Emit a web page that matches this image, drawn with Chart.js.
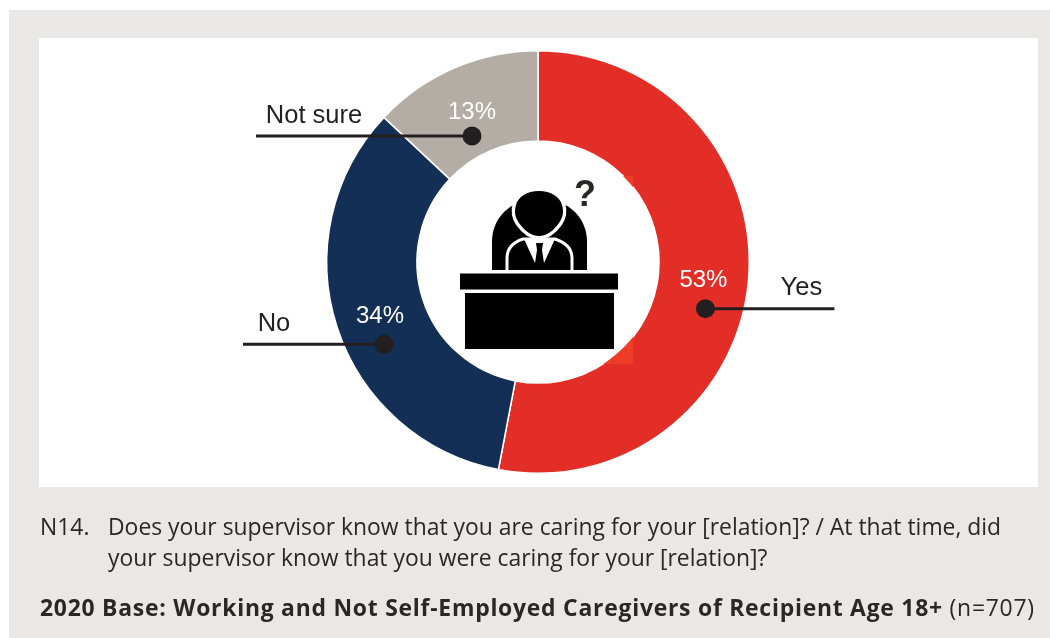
<!DOCTYPE html>
<html>
<head>
<meta charset="utf-8">
<script src="https://cdn.jsdelivr.net/npm/chart.js@4"></script>
<style>
html,body{margin:0;padding:0;background:#fff;}
#panel{position:absolute;left:9px;top:10px;width:1041px;height:628px;background:#e9e8e6;}
#plot{position:absolute;left:39px;top:38px;width:999px;height:449px;background:#fff;}
canvas{position:absolute;left:0;top:0;}
.note{position:absolute;font-family:"Open Sans",sans-serif;color:#2a2827;white-space:nowrap;font-size:22.9px;}
</style>
</head>
<body>
<div id="panel"></div>
<div id="plot"></div>
<canvas id="chart" width="1050" height="638"></canvas>
<div class="note" style="left:40px;top:511px">N14.</div>
<div class="note" style="left:108px;top:511px">Does your supervisor know that you are caring for your [relation]? / At that time, did</div>
<div class="note" style="left:108px;top:542px">your supervisor know that you were caring for your [relation]?</div>
<div class="note" style="left:40px;top:592px;letter-spacing:.76px"><b>2020 Base: Working and Not Self-Employed Caregivers of Recipient Age 18+</b> (n=707)</div>
<script>
const categories = ['Yes', 'No', 'Not sure'];
const shares = [53, 34, 13];
const sliceColors = ['#e32d27', '#142f55', '#b3ada5'];

// where the name sits and where its leader line ends, relative to the dot on each slice
const callouts = [
  {dx: 2, dy: 31, lineTo: 129, nameX: 96, nameY: -21},
  {dx: 4, dy: 31, lineTo: -141, nameX: -110, nameY: -20},
  {dx: 0, dy: 26.5, lineTo: -216, nameX: -158, nameY: -20}
];

function drawIcon(ctx, cx, cy) {
  // person at a desk, measured from the ring centre
  ctx.save();
  ctx.translate(cx, cy);
  ctx.fillStyle = '#000';
  // shoulders
  ctx.beginPath();
  ctx.moveTo(-46, 8);
  ctx.lineTo(-46, -20);
  ctx.bezierCurveTo(-46, -38, -36, -52, -22, -58);
  ctx.lineTo(25, -58);
  ctx.bezierCurveTo(39, -52, 49, -38, 49, -20);
  ctx.lineTo(49, 8);
  ctx.closePath();
  ctx.fill();
  // white line round the chest
  ctx.strokeStyle = '#fff';
  ctx.lineWidth = 3;
  ctx.beginPath();
  ctx.moveTo(-31, 8);
  ctx.lineTo(-31, -4);
  ctx.bezierCurveTo(-31, -14, -24, -20, -15, -23);
  ctx.lineTo(17, -23);
  ctx.bezierCurveTo(26, -20, 34, -14, 34, -4);
  ctx.lineTo(34, 8);
  ctx.stroke();
  // head, with a white halo over the shoulders
  ctx.beginPath();
  ctx.moveTo(1, -71);
  ctx.bezierCurveTo(13, -71, 22, -65, 24, -57);
  ctx.bezierCurveTo(26, -50, 25, -45, 21, -39);
  ctx.bezierCurveTo(16, -32, 9, -26, 1, -26);
  ctx.bezierCurveTo(-7, -26, -14, -32, -19, -39);
  ctx.bezierCurveTo(-23, -45, -24, -50, -22, -57);
  ctx.bezierCurveTo(-20, -65, -11, -71, 1, -71);
  ctx.closePath();
  ctx.lineWidth = 7;
  ctx.stroke();
  ctx.fill();
  // shirt and tie
  ctx.fillStyle = '#fff';
  ctx.beginPath();
  ctx.moveTo(-14, -23); ctx.lineTo(-3, 1); ctx.lineTo(6, 1); ctx.lineTo(17, -23);
  ctx.closePath();
  ctx.fill();
  ctx.fillStyle = '#000';
  ctx.beginPath();
  ctx.moveTo(-2, -19); ctx.lineTo(5, -19); ctx.lineTo(4, -12); ctx.lineTo(6, 1); ctx.lineTo(-3, 1); ctx.lineTo(-1, -12);
  ctx.closePath();
  ctx.fill();
  // desk
  ctx.fillRect(-78, 11.5, 158, 16);
  ctx.fillRect(-73, 31, 149, 56);
  // question mark
  ctx.fillStyle = '#2a2827';
  ctx.font = 'bold 36px "Liberation Sans"';
  ctx.textAlign = 'center';
  ctx.textBaseline = 'alphabetic';
  ctx.fillText('?', 47, -56);
  ctx.restore();
}

const ringDecor = {
  id: 'ringDecor',
  afterDatasetsDraw(chart) {
    const ctx = chart.ctx;
    const arcs = chart.getDatasetMeta(0).data;
    const cx = arcs[0].x, cy = arcs[0].y;

    // lighter patch on the red ring left by the icon box in the source
    ctx.save();
    ctx.beginPath();
    ctx.arc(cx, cy, arcs[0].outerRadius, -Math.PI / 2, Math.PI / 2);
    ctx.arc(cx, cy, arcs[0].innerRadius, Math.PI / 2, -Math.PI / 2, true);
    ctx.closePath();
    ctx.clip();
    ctx.fillStyle = '#ee3c27';
    ctx.fillRect(cx + 60, cy - 86, 35, 188);
    ctx.restore();

    drawIcon(ctx, cx, cy);

    arcs.forEach((arc, i) => {
      const c = arc.getCenterPoint();
      const o = callouts[i];
      const dotX = c.x + o.dx, dotY = c.y + o.dy;

      ctx.strokeStyle = '#231f20';
      ctx.lineWidth = 3;
      ctx.beginPath();
      ctx.moveTo(dotX, dotY);
      ctx.lineTo(dotX + o.lineTo, dotY);
      ctx.stroke();

      ctx.fillStyle = '#231f20';
      ctx.beginPath();
      ctx.arc(dotX, dotY, 9.5, 0, Math.PI * 2);
      ctx.fill();

      ctx.font = '24px "Liberation Sans"';
      ctx.textAlign = 'center';
      ctx.textBaseline = 'middle';
      ctx.fillStyle = '#fff';
      ctx.fillText(shares[i] + '%', c.x, c.y + 3);

      ctx.fillStyle = '#231f20';
      ctx.font = '25.5px "Liberation Sans"';
      ctx.fillText(categories[i], dotX + o.nameX, dotY + o.nameY);
    });
  }
};

new Chart(document.getElementById('chart'), {
  type: 'doughnut',
  data: {
    labels: categories,
    datasets: [{data: shares, backgroundColor: sliceColors, borderColor: '#fff', borderWidth: 1.5, borderAlign: 'center'}]
  },
  options: {
    responsive: false,
    animation: false,
    cutout: '57.3%',
    layout: {padding: {left: 326, right: 300, top: 50, bottom: 164}},
    plugins: {legend: {display: false}, tooltip: {enabled: false}}
  },
  plugins: [ringDecor]
});
</script>
</body>
</html>
